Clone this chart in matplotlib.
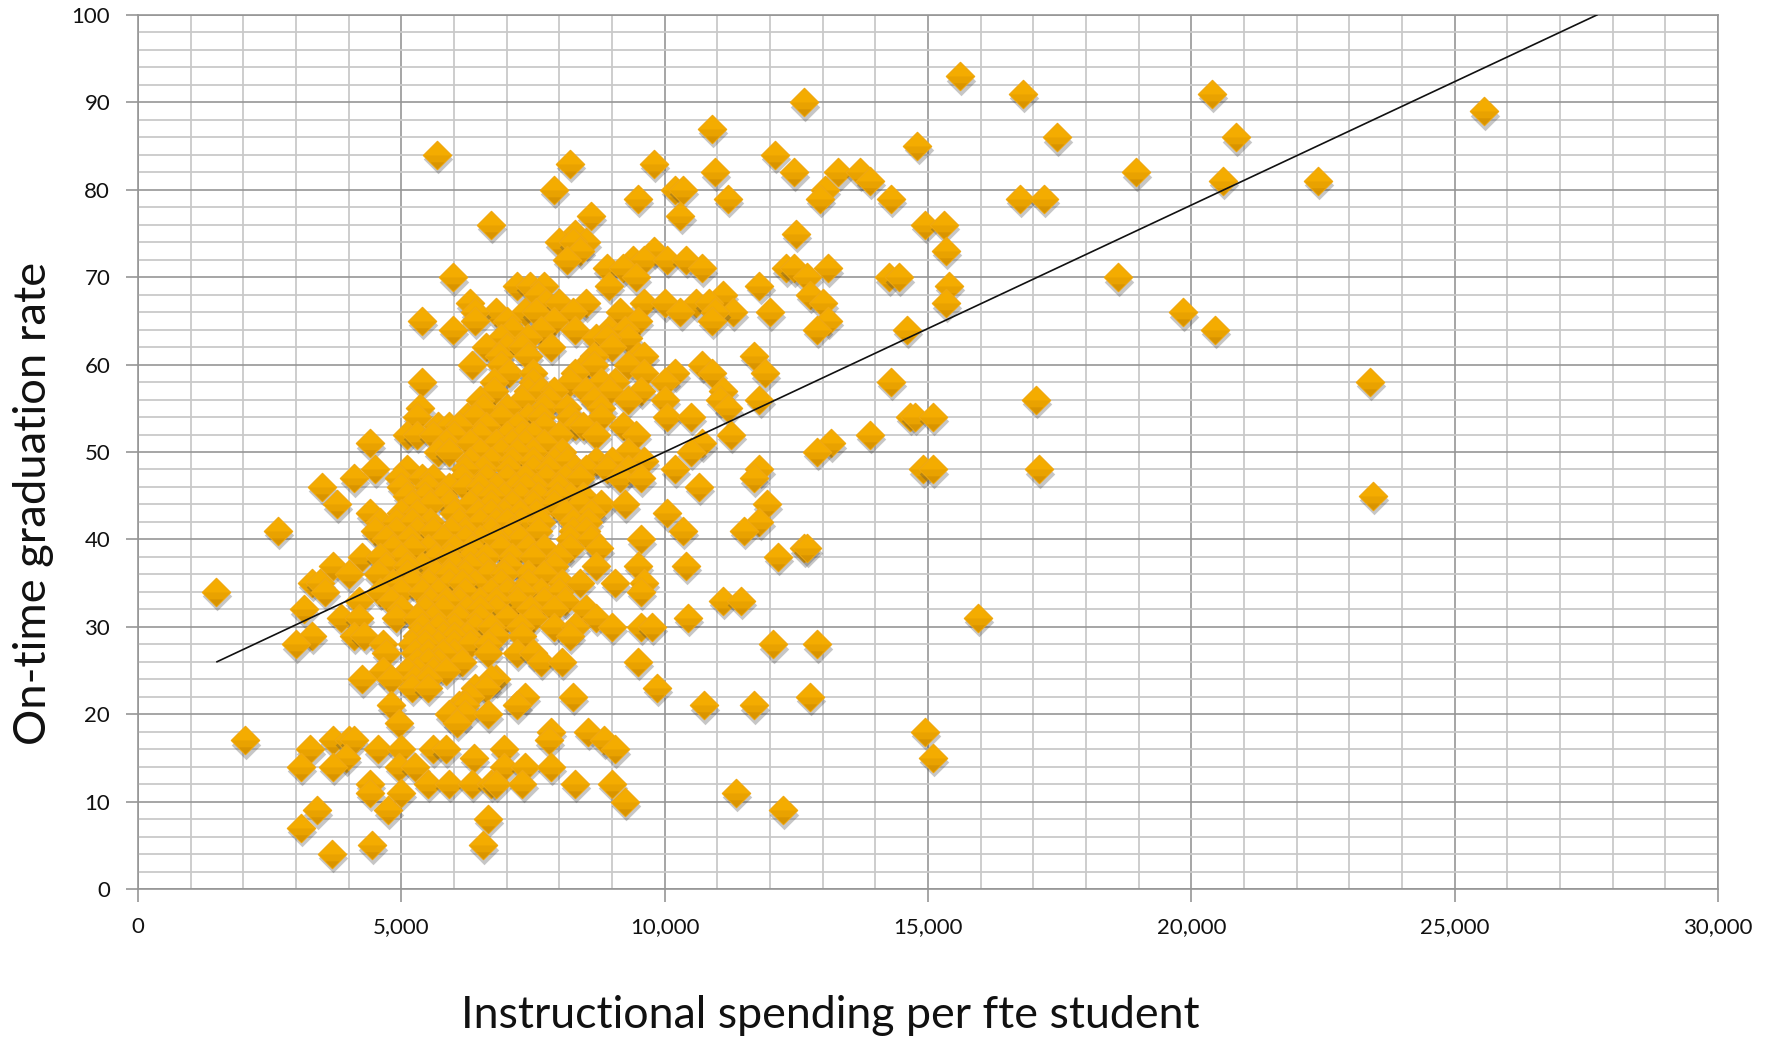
import matplotlib
matplotlib.use("Agg")
import matplotlib.pyplot as plt
import numpy as np
from matplotlib.path import Path
from matplotlib.ticker import FuncFormatter, MultipleLocator

# Data, spending values grouped by graduation rate
rates = [93, 91, 90, 89, 87, 86, 85, 84, 83, 82, 81, 80, 79, 77, 76, 75, 74, 73, 72, 71,
         70, 69, 68, 67, 66, 65, 64, 63, 62, 61, 60, 59, 58, 57, 56, 55, 54, 53, 52, 51,
         50, 49, 48, 47, 46, 45, 44, 43, 42, 41, 40, 39, 38, 37, 36, 35, 34, 33, 32, 31,
         30, 29, 28, 27, 26, 25, 24, 23, 22, 21, 20, 19, 18, 17, 16, 15, 14, 12, 11, 10,
         9, 8, 7, 5, 4]
spend_at_rate = [
    [15600],
    [16800, 20400],
    [12650],
    [25550],
    [10900],
    [17450, 20850],
    [14800],
    [5680, 12100],
    [8200, 9800],
    [10950, 12450, 13300, 13700, 18950],
    [13900, 20600, 22400],
    [7900, 10200, 10350, 13050],
    [9500, 11200, 12950, 14300, 16750, 17200],
    [8600, 10300],
    [6700, 14950, 15300],
    [8300, 12500],
    [8000, 8500, 8250],
    [8400, 9800, 15350],
    [8150, 9400, 9600, 10050, 10400],
    [8900, 9200, 10700, 12300, 12450, 13100],
    [5980, 9450, 12700, 14250, 14450, 18600],
    [7200, 7450, 7700, 8950, 11800, 15400],
    [7600, 11100, 12750],
    [6300, 7750, 8000, 8500, 9600, 10000, 10600, 10850, 13000, 15350],
    [6800, 7350, 7550, 8250, 9150, 10300, 11300, 12000, 19850, 6400, 10950],
    [5400, 6400, 7000, 7900, 9500, 10900, 13100],
    [5980, 7100, 7650, 8300, 8950, 9250, 12900, 14600, 20450],
    [7400, 8700, 9300, 8900, 6900],
    [6600, 7000, 7850, 9000, 7300],
    [6850, 7400, 9500, 9600, 11700, 8650],
    [6350, 6900, 8500, 9300, 10700, 8650],
    [7050, 7500, 10200, 10900, 11900, 9600, 8300],
    [5400, 6750, 7500, 8200, 9050, 14300, 23400, 10000, 8800],
    [6750, 7400, 7650, 7900, 8950, 9550, 11100, 8500],
    [7300, 7800, 8650, 10000, 11050, 11800, 17050, 6500, 9300],
    [5350, 6550, 7000, 7700, 8150, 11200, 8800],
    [5300, 6250, 6400, 7400, 7650, 8200, 8800, 10050, 10500, 14650, 14750, 15100, 6900],
    [5700, 5900, 6600, 7200, 8300, 8450, 9200, 7700, 6100],
    [5100, 5300, 5600, 6000, 7000, 7300, 8000, 9450, 11250, 13900, 6500, 7500, 8700],
    [4400, 5850, 6800, 7100, 7700, 10700, 13150, 7350, 6300],
    [5700, 5900, 6500, 6900, 7500, 9300, 10500, 12900, 8050, 7200],
    [6700, 7100, 7500, 7900, 8700, 9600, 6300, 8150, 9000],
    [4500, 5100, 6550, 7050, 7500, 8300, 8500, 8900, 9300, 10200, 11800, 14900, 15100, 17100, 6200, 7800],
    [4100, 4950, 5400, 6150, 6600, 7000, 7350, 7750, 8100, 9150, 9550, 11700, 5600, 8400],
    [3500, 5000, 5500, 5900, 6200, 6800, 7150, 7550, 8000, 10650, 6500, 7350],
    [5100, 5450, 6450, 6950, 7250, 7600, 8450, 23450, 5800, 6700, 8200, 7950],
    [3780, 5200, 5900, 6300, 6700, 7500, 7900, 8400, 8800, 9250, 11950, 7100, 5550],
    [4400, 5000, 6000, 6450, 6950, 7550, 8100, 8600, 10050, 7250, 6700, 5300],
    [4600, 4900, 5550, 6100, 6500, 6800, 7250, 7650, 8250, 8550, 11800, 5200, 7000],
    [2660, 4500, 5300, 5600, 6200, 6700, 7100, 7600, 8250, 8500, 10350, 11500, 4900, 5950],
    [4700, 5150, 5800, 6500, 7000, 7250, 8200, 8600, 9550, 6200, 6800],
    [4850, 5500, 6000, 6350, 6900, 7400, 8750, 12650, 12700, 5200, 7700, 8200],
    [4250, 5000, 5650, 6300, 6600, 7100, 7500, 8000, 12150, 5900, 4600],
    [3700, 4700, 5400, 6000, 6550, 7050, 7900, 8700, 9500, 10400, 6300, 5100],
    [4000, 4550, 5100, 5650, 6200, 6650, 7400, 7700, 5900, 6950],
    [3300, 3450, 4850, 5500, 5900, 6400, 6900, 7400, 8050, 8400, 9050, 9600, 5200, 6150],
    [1480, 3550, 4600, 5000, 5400, 6200, 6700, 7000, 7650, 8000, 9550, 5700, 7300],
    [4200, 4800, 5550, 6100, 6500, 7200, 7700, 8100, 11100, 11450, 5850, 6800],
    [3150, 5000, 5450, 5800, 6250, 6800, 7450, 7900, 8500, 6500],
    [3850, 4200, 4900, 5600, 6100, 6500, 7000, 7500, 8700, 10450, 15950, 5300],
    [5400, 6000, 6400, 7250, 7900, 8300, 9000, 9550, 9750, 5700, 6700],
    [3300, 4100, 4300, 5300, 5800, 6250, 6800, 7300, 8200, 5500, 6000],
    [3000, 4650, 5200, 5700, 6000, 6300, 6650, 12050, 12900, 5450],
    [4700, 5250, 5500, 6000, 6650, 7200, 7500, 5800],
    [5300, 5700, 6150, 7650, 8050, 9500, 5500],
    [4650, 5300, 5600, 5850, 5100],
    [4260, 4800, 5250, 5500, 6800, 6700],
    [5200, 5500, 6400, 6600, 9850],
    [6300, 7350, 8250, 12750],
    [4800, 6100, 6200, 7200, 10750, 11700],
    [5900, 6200, 6650],
    [4950, 6050],
    [7850, 8550, 14950],
    [2030, 3700, 4000, 4100, 7800, 8850],
    [3270, 4550, 5000, 5600, 5850, 6950, 9050],
    [3950, 6380, 15100],
    [3100, 3700, 4950, 5250, 6950, 7350, 7850],
    [4400, 5500, 5900, 6350, 6700, 6800, 7300, 8300, 9000],
    [4400, 5000, 11350],
    [9250],
    [3400, 4750, 12250],
    [6650],
    [3100],
    [4450, 6550],
    [3680],
]
trend_spend = [1500, 27700]
trend_rate = [26, 100]

x_ticks = [0, 5000, 10000, 15000, 20000, 25000, 30000]
y_ticks = [0, 10, 20, 30, 40, 50, 60, 70, 80, 90, 100]

spend = np.concatenate(spend_at_rate)
rate = np.repeat(rates, [len(s) for s in spend_at_rate])

plt.rcParams["font.family"] = ["Lato", "DejaVu Sans"]

fig = plt.figure(figsize=(17.69, 10.39), dpi=100)
ax = fig.add_axes([138 / 1769, 1 - 889 / 1039, 1580 / 1769, 874 / 1039])

ax.set_xlim(0, 30000)
ax.set_ylim(0, 100)
ax.set_xticks(x_ticks)
ax.set_yticks(y_ticks)
ax.xaxis.set_minor_locator(MultipleLocator(1000))
ax.yaxis.set_minor_locator(MultipleLocator(2))
ax.xaxis.set_major_formatter(FuncFormatter(lambda v, p: f"{int(v):,}"))

ax.grid(which="minor", color="#c9c9c9", linewidth=1.3, zorder=0)
ax.grid(which="major", color="#969696", linewidth=1.2, zorder=0)
ax.set_axisbelow(True)
for side in ax.spines.values():
    side.set_color("#969696")
    side.set_linewidth(1.2)
ax.tick_params(which="minor", length=0)
ax.tick_params(which="major", length=9, width=1.2, color="#969696", labelsize=16, labelcolor="#111111", pad=11)

# Diamond with a soft shadow and stepped shading, one point at a time so overlaps look right
size = 205
lower_half = Path([(-1, 0), (1, 0), (0, -1), (-1, 0)])
bottom_band = Path([(-0.5, -0.5), (0.5, -0.5), (0, -1), (-0.5, -0.5)])
for n, (sx, ry) in enumerate(zip(spend, rate)):
    z = 3 + n * 0.001
    ax.scatter(sx + 20, ry - 0.5, marker="D", s=size * 1.1, color="#444444", alpha=0.3, linewidths=0, zorder=z)
    ax.scatter(sx, ry, marker="D", s=size, color="#f4ac00", edgecolors="#f0a810", linewidths=1, zorder=z)
    ax.scatter(sx, ry, marker=lower_half, s=size * 1.9, color="#e9a200", linewidths=0, zorder=z)
    ax.scatter(sx, ry, marker=bottom_band, s=size * 1.9, color="#d99400", linewidths=0, zorder=z)

ax.plot(trend_spend, trend_rate, color="#111111", linewidth=1.2, zorder=4, clip_on=True)

fig.text(0.4695, 1 - 1016 / 1039, "Instructional spending per fte student", ha="center", va="center", fontsize=32.2, color="#111111")
fig.text(34 / 1769, 1 - 503 / 1039, "On-time graduation rate", rotation=90, ha="center", va="center", fontsize=32.6, color="#111111")

fig.savefig("out.png", dpi=100)
